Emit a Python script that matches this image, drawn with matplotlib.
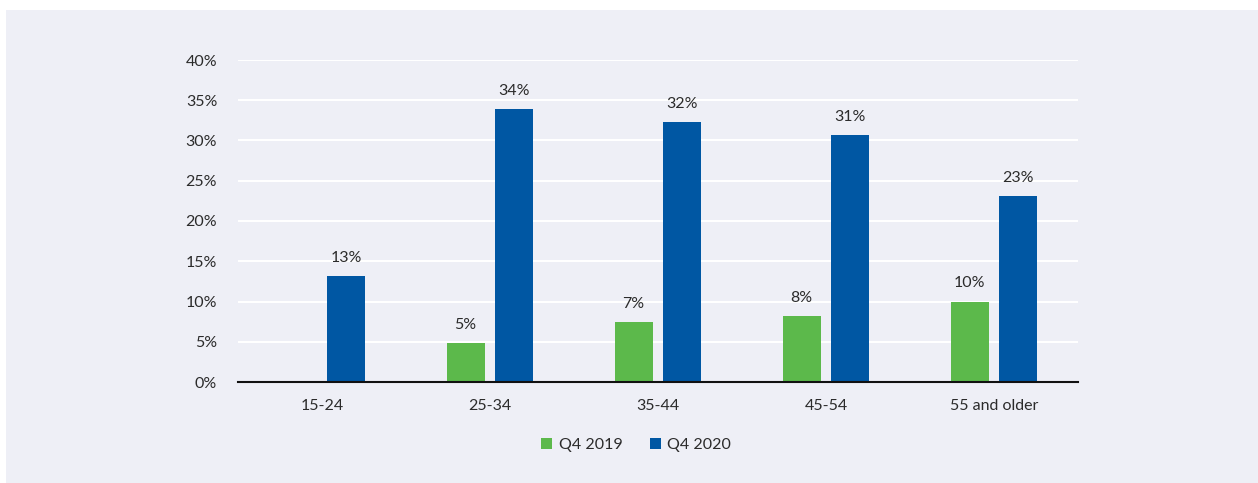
import numpy as np
import matplotlib
matplotlib.use("Agg")
import matplotlib.pyplot as plt
from matplotlib.patches import Rectangle

# data
categories = ["15-24", "25-34", "35-44", "45-54", "55 and older"]
q4_2019 = [0.0, 4.8, 7.4, 8.2, 10.0]
q4_2020 = [13.2, 33.9, 32.3, 30.7, 23.1]
series_names = ["Q4 2019", "Q4 2020"]
y_ticks = [0, 5, 10, 15, 20, 25, 30, 35, 40]

GREEN = "#5cb94b"
BLUE = "#0057a3"
BG = "#eeeff6"
TEXT = "#2b2b2b"

plt.rcParams["font.family"] = ["Lato", "DejaVu Sans"]

fig = plt.figure(figsize=(12.58, 4.83), dpi=100, facecolor="white")
# panel background (white strip on left/top)
fig.patches.append(Rectangle((6 / 1258, 0), 1 - 6 / 1258, 1 - 10 / 483,
                             transform=fig.transFigure, facecolor=BG,
                             edgecolor="none", zorder=-10))

ax = fig.add_axes([238 / 1258, 1 - 382 / 483, 840 / 1258, 322 / 483])
ax.set_facecolor(BG)

x = np.arange(len(categories))
w = 0.225
off = 0.145
b1 = ax.bar(x - off, q4_2019, w, color=GREEN, label=series_names[0], zorder=3)
b2 = ax.bar(x + off, q4_2020, w, color=BLUE, label=series_names[1], zorder=3)

for bars, vals in ((b1, q4_2019), (b2, q4_2020)):
    for rect, v in zip(bars, vals):
        if v <= 0:
            continue
        ax.annotate(f"{round(v):d}%", (rect.get_x() + rect.get_width() / 2, v),
                    xytext=(0, 8), textcoords="offset points", ha="center",
                    va="bottom", fontsize=11.5, color=TEXT)

ax.set_xlim(-0.5, len(categories) - 0.5)
ax.set_ylim(0, 40)
ax.set_yticks(y_ticks)
ax.set_yticklabels([f"{t}%" for t in y_ticks])
ax.set_xticks(x)
ax.set_xticklabels(categories)
ax.tick_params(axis="both", length=0, labelsize=11.5, labelcolor=TEXT)
ax.tick_params(axis="y", pad=15)
ax.tick_params(axis="x", pad=12)
ax.yaxis.grid(True, color="white", linewidth=1.5, zorder=0)
ax.set_axisbelow(True)
for s in ("top", "right", "left"):
    ax.spines[s].set_visible(False)
ax.spines["bottom"].set_color("#111111")
ax.spines["bottom"].set_linewidth(1.5)
ax.spines["bottom"].set_zorder(4)

leg = fig.legend(handles=[b1, b2], labels=series_names, loc="center",
                 bbox_to_anchor=(636 / 1258, 1 - 445 / 483), ncol=2,
                 frameon=False, fontsize=11.5, handlelength=0.7, handleheight=0.7,
                 handletextpad=0.4, columnspacing=1.7)
for t in leg.get_texts():
    t.set_color(TEXT)

fig.savefig("out.png", dpi=100, facecolor=fig.get_facecolor())
